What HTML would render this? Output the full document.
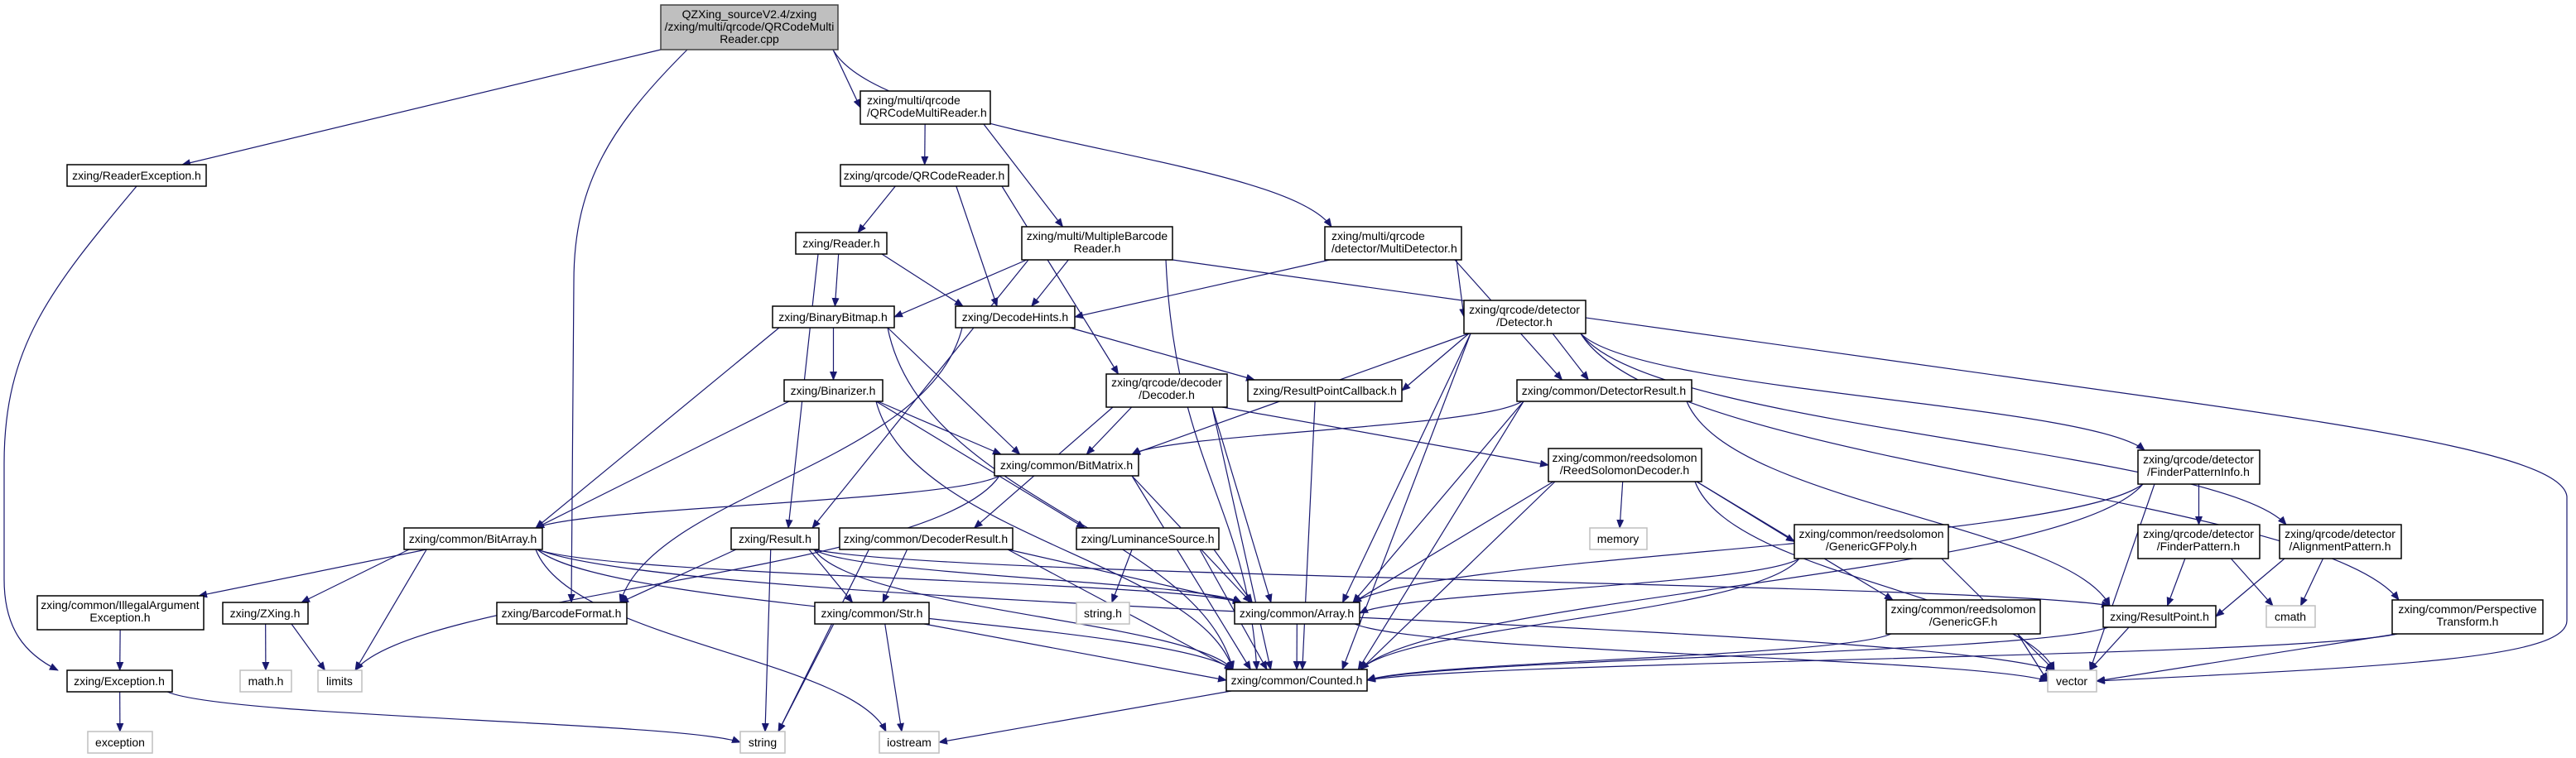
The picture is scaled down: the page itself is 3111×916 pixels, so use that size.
<!DOCTYPE html>
<html><head><meta charset="utf-8"><style>
html,body{margin:0;padding:0;background:#fff;width:3111px;height:916px;overflow:hidden}
svg{display:block}
text{font-family:"Liberation Sans",Arial,sans-serif;font-size:14px;fill:#000}
</style></head><body>
<svg id="g" width="3111" height="916" viewBox="0 0 3111 916" xmlns="http://www.w3.org/2000/svg">
<defs><marker id="ah" markerWidth="11" markerHeight="9" refX="10" refY="4.5" orient="auto" markerUnits="userSpaceOnUse"><path d="M0,0 L11,4.5 L0,9 z" fill="#191970"/></marker></defs>
<g id="edges" fill="none" stroke="#191970" stroke-width="1.2">
<path d="M798,60 L220,199" marker-end="url(#ah)"/>
<path d="M165,225 C60,350 5,420 5,560 L5,700 C5,760 30,790 70,810" marker-end="url(#ah)"/>
<path d="M830,60 C740,150 693,220 693,340 L690,728" marker-end="url(#ah)"/>
<path d="M1416,314 L2600,480 C2900,522 3095,555 3100,600 L3100,750 C3100,795 2900,805 2532,823" marker-end="url(#ah)"/>
</g>
<g id="nodes" stroke-width="1.5">
<rect x="798" y="6" width="214" height="54" fill="#bfbfbf" stroke="#404040"/>
<text x="905" y="22" text-anchor="middle">QZXing_sourceV2.4/zxing</text>
<text x="905" y="37" text-anchor="middle">/zxing/multi/qrcode/QRCodeMulti</text>
<text x="905" y="52" text-anchor="middle">Reader.cpp</text>

<rect x="81" y="199" width="168" height="26" fill="#fff" stroke="#000"/><text x="165" y="217" text-anchor="middle">zxing/ReaderException.h</text>
<rect x="1039" y="110" width="157" height="40" fill="#fff" stroke="#000"/><text x="1047" y="126">zxing/multi/qrcode</text><text x="1047" y="141">/QRCodeMultiReader.h</text>
<rect x="1015" y="199" width="203" height="26" fill="#fff" stroke="#000"/><text x="1116" y="217" text-anchor="middle">zxing/qrcode/QRCodeReader.h</text>
<rect x="961" y="281" width="110" height="26" fill="#fff" stroke="#000"/><text x="1016" y="299" text-anchor="middle">zxing/Reader.h</text>
<rect x="1234" y="274" width="182" height="40" fill="#fff" stroke="#000"/><text x="1325" y="290" text-anchor="middle">zxing/multi/MultipleBarcode</text><text x="1325" y="305" text-anchor="middle">Reader.h</text>
<rect x="1600" y="274" width="165" height="40" fill="#fff" stroke="#000"/><text x="1608" y="290">zxing/multi/qrcode</text><text x="1608" y="305">/detector/MultiDetector.h</text>
<rect x="933" y="370" width="147" height="26" fill="#fff" stroke="#000"/><text x="1006" y="388" text-anchor="middle">zxing/BinaryBitmap.h</text>
<rect x="1154" y="370" width="144" height="26" fill="#fff" stroke="#000"/><text x="1226" y="388" text-anchor="middle">zxing/DecodeHints.h</text>
<rect x="1768" y="363" width="147" height="40" fill="#fff" stroke="#000"/><text x="1841" y="379" text-anchor="middle">zxing/qrcode/detector</text><text x="1841" y="394" text-anchor="middle">/Detector.h</text>
<rect x="947" y="459" width="119" height="26" fill="#fff" stroke="#000"/><text x="1006" y="477" text-anchor="middle">zxing/Binarizer.h</text>
<rect x="1336" y="452" width="146" height="40" fill="#fff" stroke="#000"/><text x="1409" y="467" text-anchor="middle">zxing/qrcode/decoder</text><text x="1409" y="482" text-anchor="middle">/Decoder.h</text>
<rect x="1507" y="459" width="186" height="26" fill="#fff" stroke="#000"/><text x="1600" y="477" text-anchor="middle">zxing/ResultPointCallback.h</text>
<rect x="1832" y="459" width="211" height="26" fill="#fff" stroke="#000"/><text x="1937" y="477" text-anchor="middle">zxing/common/DetectorResult.h</text>
<rect x="1201" y="549" width="174" height="26" fill="#fff" stroke="#000"/><text x="1288" y="567" text-anchor="middle">zxing/common/BitMatrix.h</text>
<rect x="1870" y="542" width="185" height="40" fill="#fff" stroke="#000"/><text x="1962" y="558" text-anchor="middle">zxing/common/reedsolomon</text><text x="1962" y="573" text-anchor="middle">/ReedSolomonDecoder.h</text>
<rect x="2582" y="544" width="147" height="41" fill="#fff" stroke="#000"/><text x="2655" y="560" text-anchor="middle">zxing/qrcode/detector</text><text x="2655" y="575" text-anchor="middle">/FinderPatternInfo.h</text>
<rect x="488" y="638" width="167" height="26" fill="#fff" stroke="#000"/><text x="571" y="656" text-anchor="middle">zxing/common/BitArray.h</text>
<rect x="883" y="638" width="106" height="26" fill="#fff" stroke="#000"/><text x="936" y="656" text-anchor="middle">zxing/Result.h</text>
<rect x="1014" y="638" width="209" height="26" fill="#fff" stroke="#000"/><text x="1118" y="656" text-anchor="middle">zxing/common/DecoderResult.h</text>
<rect x="1300" y="638" width="172" height="26" fill="#fff" stroke="#000"/><text x="1386" y="656" text-anchor="middle">zxing/LuminanceSource.h</text>
<rect x="1920" y="638" width="69" height="26" fill="#fff" stroke="#bfbfbf"/><text x="1954" y="656" text-anchor="middle">memory</text>
<rect x="2167" y="634" width="186" height="41" fill="#fff" stroke="#000"/><text x="2260" y="650" text-anchor="middle">zxing/common/reedsolomon</text><text x="2260" y="665" text-anchor="middle">/GenericGFPoly.h</text>
<rect x="2582" y="634" width="147" height="41" fill="#fff" stroke="#000"/><text x="2655" y="650" text-anchor="middle">zxing/qrcode/detector</text><text x="2655" y="665" text-anchor="middle">/FinderPattern.h</text>
<rect x="2753" y="634" width="147" height="41" fill="#fff" stroke="#000"/><text x="2826" y="650" text-anchor="middle">zxing/qrcode/detector</text><text x="2826" y="665" text-anchor="middle">/AlignmentPattern.h</text>
<rect x="45" y="720" width="201" height="41" fill="#fff" stroke="#000"/><text x="145" y="736" text-anchor="middle">zxing/common/IllegalArgument</text><text x="145" y="751" text-anchor="middle">Exception.h</text>
<rect x="269" y="728" width="103" height="26" fill="#fff" stroke="#000"/><text x="320" y="746" text-anchor="middle">zxing/ZXing.h</text>
<rect x="600" y="728" width="157" height="26" fill="#fff" stroke="#000"/><text x="678" y="746" text-anchor="middle">zxing/BarcodeFormat.h</text>
<rect x="984" y="728" width="138" height="26" fill="#fff" stroke="#000"/><text x="1053" y="746" text-anchor="middle">zxing/common/Str.h</text>
<rect x="1300" y="728" width="64" height="26" fill="#fff" stroke="#bfbfbf"/><text x="1332" y="746" text-anchor="middle">string.h</text>
<rect x="1491" y="728" width="151" height="26" fill="#fff" stroke="#000"/><text x="1566" y="746" text-anchor="middle">zxing/common/Array.h</text>
<rect x="2278" y="725" width="186" height="41" fill="#fff" stroke="#000"/><text x="2371" y="741" text-anchor="middle">zxing/common/reedsolomon</text><text x="2371" y="756" text-anchor="middle">/GenericGF.h</text>
<rect x="2540" y="732" width="136" height="26" fill="#fff" stroke="#000"/><text x="2608" y="750" text-anchor="middle">zxing/ResultPoint.h</text>
<rect x="2737" y="732" width="59" height="26" fill="#fff" stroke="#bfbfbf"/><text x="2766" y="750" text-anchor="middle">cmath</text>
<rect x="2889" y="725" width="182" height="41" fill="#fff" stroke="#000"/><text x="2980" y="741" text-anchor="middle">zxing/common/Perspective</text><text x="2980" y="756" text-anchor="middle">Transform.h</text>
<rect x="81" y="810" width="127" height="26" fill="#fff" stroke="#000"/><text x="144" y="828" text-anchor="middle">zxing/Exception.h</text>
<rect x="290" y="810" width="62" height="26" fill="#fff" stroke="#bfbfbf"/><text x="321" y="828" text-anchor="middle">math.h</text>
<rect x="384" y="810" width="53" height="26" fill="#fff" stroke="#bfbfbf"/><text x="410" y="828" text-anchor="middle">limits</text>
<rect x="1481" y="809" width="170" height="26" fill="#fff" stroke="#000"/><text x="1566" y="827" text-anchor="middle">zxing/common/Counted.h</text>
<rect x="2473" y="810" width="59" height="26" fill="#fff" stroke="#bfbfbf"/><text x="2502" y="828" text-anchor="middle">vector</text>
<rect x="106" y="884" width="78" height="26" fill="#fff" stroke="#bfbfbf"/><text x="145" y="902" text-anchor="middle">exception</text>
<rect x="894" y="884" width="54" height="26" fill="#fff" stroke="#bfbfbf"/><text x="921" y="902" text-anchor="middle">string</text>
<rect x="1062" y="884" width="72" height="26" fill="#fff" stroke="#bfbfbf"/><text x="1098" y="902" text-anchor="middle">iostream</text>
</g>
</svg>
<script>
var N={
root:[798,6,1012,60],rex:[81,199,249,225],qmr:[1039,110,1196,150],qr:[1015,199,1218,225],rd:[961,281,1071,307],
mbr:[1234,274,1416,314],md:[1600,274,1765,314],bb:[933,370,1080,396],dh:[1154,370,1298,396],det:[1768,363,1915,403],
bin:[947,459,1066,485],dec:[1336,452,1482,492],rpc:[1507,459,1693,485],dr:[1832,459,2043,485],bm:[1201,549,1375,575],
rsd:[1870,542,2055,582],fpi:[2582,544,2729,585],ba:[488,638,655,664],res:[883,638,989,664],decr:[1014,638,1223,664],
lum:[1300,638,1472,664],mem:[1920,638,1989,664],gfp:[2167,634,2353,675],fp:[2582,634,2729,675],ap:[2753,634,2900,675],
iae:[45,720,246,761],zx:[269,728,372,754],bf:[600,728,757,754],str:[984,728,1122,754],strh:[1300,728,1364,754],
arr:[1491,728,1642,754],gf:[2278,725,2464,766],rp:[2540,732,2676,758],cm:[2737,732,2796,758],pt:[2889,725,3071,766],
exc:[81,810,208,836],mh:[290,810,352,836],lim:[384,810,437,836],cnt:[1481,809,1651,835],vec:[2473,810,2532,836],
ex:[106,884,184,910],s:[894,884,948,910],io:[1062,884,1134,910]};
var E=[["root","qmr"],["root","md"],["qmr","qr"],["qmr","mbr"],
["qr","rd"],["qr","dh"],["qr","dec"],["rd","bb"],["rd","dh"],["rd","res"],["mbr","bb"],["mbr","dh"],["mbr","res"],["mbr","cnt"],
["md","dh"],["md","det"],["md","dr"],["bb","bin"],["bb","ba"],["bb","bm"],["bb","cnt"],["dh","rpc"],["dh","bf"],
["det","bm"],["det","rpc"],["det","dr"],["det","cnt"],["det","fpi"],["det","ap"],["det","pt"],["det","arr"],
["bin","ba"],["bin","bm"],["bin","lum"],["bin","cnt"],["dec","bm"],["dec","decr"],["dec","rsd"],["dec","arr"],["dec","cnt"],
["rpc","cnt"],["dr","bm"],["dr","arr"],["dr","cnt"],["dr","rp"],["bm","ba"],["bm","lim"],["bm","arr"],["bm","cnt"],
["rsd","mem"],["rsd","gfp"],["rsd","gf"],["rsd","arr"],["rsd","cnt"],["rsd","vec"],["fpi","fp"],["fpi","arr"],["fpi","cnt"],["fpi","vec"],
["ba","zx"],["ba","lim"],["ba","cnt"],["ba","arr"],["ba","vec"],["ba","io"],
["res","bf"],["res","s"],["res","str"],["res","arr"],["res","cnt"],["res","rp"],["decr","str"],["decr","s"],["decr","arr"],["decr","cnt"],
["lum","strh"],["lum","arr"],["lum","cnt"],["gfp","arr"],["gfp","cnt"],["gfp","vec"],["fp","rp"],["fp","cm"],["ap","rp"],["ap","cm"],
["iae","exc"],["zx","mh"],["zx","lim"],["str","s"],["str","io"],["str","cnt"],["arr","cnt"],["arr","vec"],["gf","cnt"],["gf","vec"],
["rp","cnt"],["rp","vec"],["pt","cnt"],["pt","vec"],["exc","s"],["exc","ex"],["cnt","io"]];
var g=document.getElementById("edges"),h='<path d="M515,664 L240,720" marker-end="url(#ah)"/>';
function cl(v,a,b){return Math.max(a,Math.min(b,v));}
E.forEach(function(e){var a=N[e[0]],b=N[e[1]];
var acx=(a[0]+a[2])/2,bcx=(b[0]+b[2])/2,acy=(a[1]+a[3])/2,bcy=(b[1]+b[3])/2;
var dx=bcx-acx,dy=b[1]-a[3];
var sx,sy,tx,ty;
if(Math.abs(dx)>2.5*Math.max(dy,1)){
 sx=cl(acx+dx*0.5,a[0]+6,a[2]-6);sy=a[3];
 tx=dx>0?b[0]:b[2];ty=cl(bcy,b[1]+4,b[3]-4);
 if(dy>60){tx=cl(bcx-dx*0.3,b[0]+8,b[2]-8);ty=b[1];}
}else{
 sx=cl(acx+dx*0.35,a[0]+8,a[2]-8);sy=a[3];
 tx=cl(bcx-dx*0.2,b[0]+8,b[2]-8);ty=b[1];
}
var len=Math.hypot(tx-sx,ty-sy);
if(len<450){h+='<path d="M'+sx+','+sy+' L'+tx+','+ty+'" marker-end="url(#ah)"/>';}
else{var ddy=ty-sy;h+='<path d="M'+sx+','+sy+' C'+(sx+(tx-sx)*0.1)+','+(sy+ddy*0.5)+' '+(tx-(tx-sx)*0.1)+','+(ty-ddy*0.4)+' '+tx+','+ty+'" marker-end="url(#ah)"/>';}
});
g.innerHTML+=h;
</script>
</body></html>
